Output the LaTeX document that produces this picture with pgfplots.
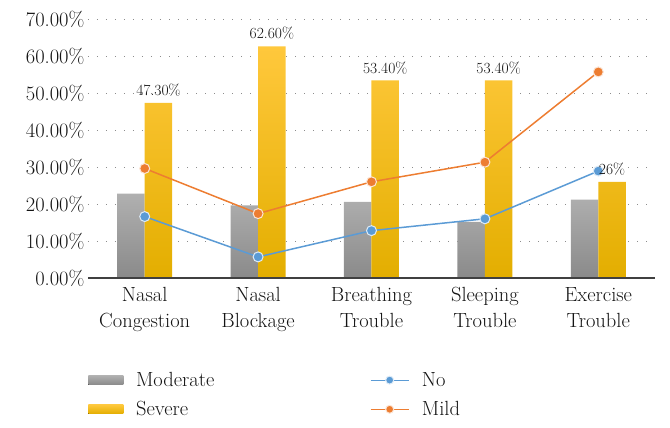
\documentclass[border=0pt]{standalone}
\usepackage{pgfplots}
\pgfplotsset{compat=1.18}
\definecolor{txt}{HTML}{141414}
\definecolor{grayT}{HTML}{B0B0B0}
\definecolor{grayB}{HTML}{8A8A8A}
\definecolor{yelT}{HTML}{FFC83C}
\definecolor{yelB}{HTML}{E3AE00}
\definecolor{blueL}{HTML}{5B9BD5}
\definecolor{orangeL}{HTML}{ED7D31}
\definecolor{gridc}{HTML}{8C8C8C}
\definecolor{axisc}{HTML}{404040}
\pgfplotsset{
  barlegend/.style={legend image code/.code={\fill[top color=#1T,bottom color=#1B] (0pt,-4.5pt) rectangle (35pt,4.5pt);}},
  linelegend/.style={legend image code/.code={\draw[mark repeat=2,mark phase=2,##1, line width=1pt, mark size=4pt] plot coordinates {(0pt,0pt)(19pt,0pt)(38pt,0pt)};}},
}
\begin{document}
\begin{tikzpicture}
\useasboundingbox (-88pt,-150pt) rectangle (582pt,278pt);
\begin{axis}[
  at={(0pt,0pt)}, anchor=south west,
  scale only axis, width=567pt, height=259pt,
  xmin=-0.5, xmax=4.5, ymin=0, ymax=70,
  xtick={0,...,4},
  xticklabels={{Nasal\\Congestion},{Nasal\\Blockage},{Breathing\\Trouble},{Sleeping\\Trouble},{Exercise\\Trouble}},
  xticklabel style={align=center, font=\fontsize{20.5}{26}\selectfont, text=txt, yshift=-6pt},
  ytick={0,10,...,70},
  yticklabel={\pgfmathprintnumber[fixed,fixed zerofill,precision=2,assume math mode=true]{\tick}\%},
  yticklabel style={font=\fontsize{20.5}{24}\selectfont, text=txt},
  ymajorgrids, grid style={gridc, line width=1pt, dash pattern=on 1pt off 8pt},
  axis line style={draw=none},
  major tick length=0pt,
  legend columns=2, transpose legend,
  legend style={at={(axis description cs:-0.005,-0.345)}, anchor=north west, draw=none, fill=none,
    font=\fontsize{20.5}{24}\selectfont, text=txt, nodes={inner sep=2.7pt}, row sep=8pt,
    /tikz/every even column/.append style={column sep=153pt},
    /tikz/every odd column/.append style={column sep=10pt}},
  legend cell align=left,
]
\addplot[ybar, bar width=0.2425, bar shift=-0.12125, draw=none, top color=grayT, bottom color=grayB, barlegend=gray]
  coordinates {(0,22.8)(1,19.6)(2,20.6)(3,15.2)(4,21.2)};
\addlegendentry{Moderate}
\addplot[ybar, bar width=0.2425, bar shift=0.12125, draw=none, top color=yelT, bottom color=yelB, barlegend=yel]
  coordinates {(0,47.3)(1,62.6)(2,53.4)(3,53.4)(4,26.0)};
\addlegendentry{Severe}
\addplot[blueL, line width=1.5pt, mark=*, mark size=5pt,
  mark options={fill=blueL, draw=white!80!blueL, line width=1pt}, linelegend]
  coordinates {(0,16.6)(1,5.7)(2,12.8)(3,16.0)(4,28.9)};
\addlegendentry{No}
\addplot[orangeL, line width=1.5pt, mark=*, mark size=5pt,
  mark options={fill=orangeL, draw=white!80!orangeL, line width=1pt}, linelegend]
  coordinates {(0,29.6)(1,17.4)(2,26.0)(3,31.3)(4,55.7)};
\addlegendentry{Mild}
\addplot[draw=none, forget plot, point meta=explicit symbolic, nodes near coords,
  nodes near coords style={font=\fontsize{15.5}{18}\selectfont, text=txt, anchor=south, yshift=3pt}]
  coordinates {(0.12125,47.3)[47.30\%] (1.12125,62.6)[62.60\%] (2.12125,53.4)[53.40\%] (3.12125,53.4)[53.40\%] (4.12125,26.0)[26\%]};
\draw[axisc, line width=1.5pt] (rel axis cs:0,0) -- (rel axis cs:1,0);
\end{axis}
\end{tikzpicture}
\end{document}
